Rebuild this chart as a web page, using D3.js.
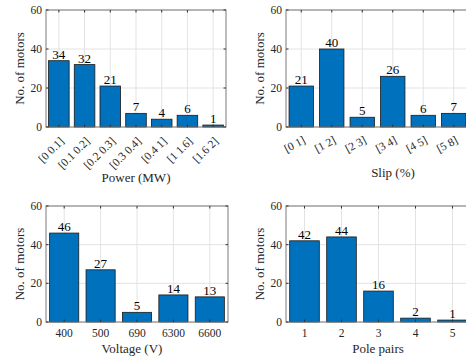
<!DOCTYPE html>
<html>
<head>
<meta charset="utf-8">
<script src="https://cdn.jsdelivr.net/npm/d3@7"></script>
<style>
  body { margin: 0; background: #fff; }
  svg text { font-family: "Liberation Serif", "DejaVu Serif", "Times New Roman", serif; }
</style>
</head>
<body>
<svg width="466" height="358"></svg>
<script>
var svg = d3.select("svg");

// data
var powerCats = ["[0 0.1]", "[0.1 0.2]", "[0.2 0.3]", "[0.3 0.4]", "[0.4 1]", "[1 1.6]", "[1.6 2]"];
var powerVals = [34, 32, 21, 7, 4, 6, 1];
var slipCats = ["[0 1]", "[1 2]", "[2 3]", "[3 4]", "[4 5]", "[5 8]"];
var slipVals = [21, 40, 5, 26, 6, 7];
var voltCats = ["400", "500", "690", "6300", "6600"];
var voltVals = [46, 27, 5, 14, 13];
var poleCats = ["1", "2", "3", "4", "5"];
var poleVals = [42, 44, 16, 2, 1];
var yTicks = [0, 20, 40, 60];

var barColor = "#0072bd";
var serif = "'Liberation Serif', 'DejaVu Serif', serif";

var draw_panel = function(p){
    var g = svg.append("g");
    var x = d3.scaleBand().domain(p.cats).range([p.x0, p.x1]).paddingInner(0).paddingOuter(0);
    var y = d3.scaleLinear().domain([0, 60]).range([p.y1, p.y0]);
    var bw = x.bandwidth();

    // grid
    g.selectAll(".gx").data(p.cats).enter().append("line")
    .attr("x1", function(d){ return x(d) + bw / 2; })
    .attr("x2", function(d){ return x(d) + bw / 2; })
    .attr("y1", p.y0).attr("y2", p.y1)
    .attr("stroke", "#e3e3e3").attr("stroke-width", 1);
    g.selectAll(".gy").data(yTicks).enter().append("line")
    .attr("x1", p.x0).attr("x2", p.x1)
    .attr("y1", function(d){ return y(d); })
    .attr("y2", function(d){ return y(d); })
    .attr("stroke", "#e3e3e3").attr("stroke-width", 1);

    // bars
    var data = p.cats.map(function(c, i){ return [c, p.vals[i]]; });
    g.selectAll("rect").data(data).enter().append("rect")
    .attr("x", function(d){ return x(d[0]) + bw * 0.1; })
    .attr("width", bw * 0.8)
    .attr("y", function(d){ return y(d[1]); })
    .attr("height", function(d){ return y(0) - y(d[1]); })
    .attr("fill", barColor)
    .attr("stroke", "#1a1a1a").attr("stroke-width", 0.8);

    // value labels
    g.selectAll(".val").data(data).enter().append("text")
    .text(function(d){ return d[1]; })
    .attr("x", function(d){ return x(d[0]) + bw / 2; })
    .attr("y", function(d){ return y(d[1]) - 2; })
    .attr("text-anchor", "middle")
    .attr("font-family", serif)
    .attr("font-size", 13)
    .attr("fill", "#000");

    // box
    g.append("rect")
    .attr("x", p.x0).attr("y", p.y0)
    .attr("width", p.x1 - p.x0).attr("height", p.y1 - p.y0)
    .attr("fill", "none").attr("stroke", "#7a7a7a").attr("stroke-width", 1);

    // tick marks (inside, top and bottom / left and right)
    p.cats.forEach(function(c){
        var cx = x(c) + bw / 2;
        g.append("line").attr("x1", cx).attr("x2", cx).attr("y1", p.y1).attr("y2", p.y1 - 2.5).attr("stroke", "#333");
        g.append("line").attr("x1", cx).attr("x2", cx).attr("y1", p.y0).attr("y2", p.y0 + 2.5).attr("stroke", "#333");
    });
    yTicks.forEach(function(t){
        g.append("line").attr("x1", p.x0).attr("x2", p.x0 + 2.5).attr("y1", y(t)).attr("y2", y(t)).attr("stroke", "#333");
        g.append("line").attr("x1", p.x1).attr("x2", p.x1 - 2.5).attr("y1", y(t)).attr("y2", y(t)).attr("stroke", "#333");
        g.append("text").text(t)
        .attr("x", p.x0 - 4).attr("y", y(t) + 4)
        .attr("text-anchor", "end").attr("font-family", serif).attr("font-size", 11.5).attr("fill", "#262626");
    });

    // x tick labels
    p.cats.forEach(function(c){
        var cx = x(c) + bw / 2;
        if (p.rot) {
            g.append("text").text(c)
            .attr("text-anchor", "end")
            .attr("font-family", serif)
            .attr("font-size", 11.5).attr("fill", "#262626")
            .attr("transform", "translate(" + (cx + 3) + "," + (p.y1 + 12) + ") rotate(" + (-p.rot) + ")")
            .attr("dy", "0.35em");
        } else {
            g.append("text").text(c)
            .attr("x", cx).attr("y", p.y1 + 15)
            .attr("text-anchor", "middle")
            .attr("font-family", serif)
            .attr("font-size", 11.5).attr("fill", "#262626");
        }
    });

    // axis labels
    g.append("text").text(p.xlabel)
    .attr("x", (p.x0 + Math.min(p.x1, 466)) / 2 + p.xlabDx)
    .attr("y", p.xlabY)
    .attr("text-anchor", "middle").attr("font-family", serif).attr("font-size", 13).attr("fill", "#262626");
    g.append("text").text("No. of motors")
    .attr("text-anchor", "middle").attr("font-family", serif).attr("font-size", 13).attr("fill", "#262626")
    .attr("transform", "translate(" + (p.x0 - 22) + "," + ((p.y0 + p.y1) / 2) + ") rotate(-90)");
};

draw_panel({cats: powerCats, vals: powerVals, x0: 46, x1: 226, y0: 10, y1: 127, rot: 45, xlabel: "Power (MW)", xlabY: 182, xlabDx: 0});
draw_panel({cats: slipCats, vals: slipVals, x0: 286, x1: 469, y0: 10, y1: 127, rot: 28, xlabel: "Slip (%)", xlabY: 177, xlabDx: 17});
draw_panel({cats: voltCats, vals: voltVals, x0: 46, x1: 228, y0: 206, y1: 322, rot: 0, xlabel: "Voltage (V)", xlabY: 353, xlabDx: -5});
draw_panel({cats: poleCats, vals: poleVals, x0: 286, x1: 471, y0: 206, y1: 322, rot: 0, xlabel: "Pole pairs", xlabY: 353, xlabDx: 2});
</script>
</body>
</html>
